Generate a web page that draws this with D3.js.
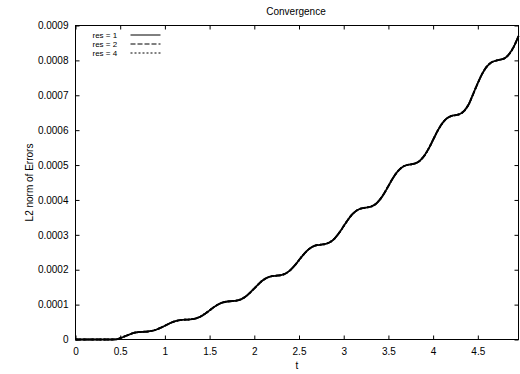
<!DOCTYPE html>
<html>
<head>
<meta charset="utf-8">
<script src="https://cdn.jsdelivr.net/npm/d3@7"></script>
<style>
  html, body { margin: 0; padding: 0; background: #fff; }
  svg { display: block; }
  text { font-family: "Liberation Sans", Arial, Helvetica, sans-serif; fill: #000; }
</style>
</head>
<body>
<svg id="chart" width="520" height="374"></svg>
<script>
// Time samples (t) of the simulation
const tValues = [
  0.00, 0.05, 0.10, 0.15, 0.20, 0.25, 0.30, 0.35, 0.40, 0.45,
  0.50, 0.55, 0.60, 0.65, 0.70, 0.75, 0.80, 0.85, 0.90, 0.95,
  1.00, 1.05, 1.10, 1.15, 1.20, 1.25, 1.30, 1.35, 1.40, 1.45,
  1.50, 1.55, 1.60, 1.65, 1.70, 1.75, 1.80, 1.85, 1.90, 1.95,
  2.00, 2.05, 2.10, 2.15, 2.20, 2.25, 2.30, 2.35, 2.40, 2.45,
  2.50, 2.55, 2.60, 2.65, 2.70, 2.75, 2.80, 2.85, 2.90, 2.95,
  3.00, 3.05, 3.10, 3.15, 3.20, 3.25, 3.30, 3.35, 3.40, 3.45,
  3.50, 3.55, 3.60, 3.65, 3.70, 3.75, 3.80, 3.85, 3.90, 3.95,
  4.00, 4.05, 4.10, 4.15, 4.20, 4.25, 4.30, 4.35, 4.40, 4.45,
  4.50, 4.55, 4.60, 4.65, 4.70, 4.75, 4.80, 4.85, 4.90, 4.955
];

// L2 norm of the error for res = 1
const errRes1 = [
  0, 0, 0, 0, 0, 0, 0, 0, 0, 0.3e-6,
  4.0e-6, 9.0e-6, 14.0e-6, 19.0e-6, 21.0e-6, 22.0e-6, 22.7e-6, 24.5e-6, 28.0e-6, 33.2e-6,
  39.5e-6, 45.8e-6, 51.0e-6, 54.5e-6, 56.3e-6, 57.0e-6, 58.1e-6, 60.8e-6, 66.1e-6, 74.0e-6,
  83.5e-6, 93.0e-6, 100.9e-6, 106.2e-6, 108.9e-6, 110.0e-6, 111.5e-6, 115.2e-6, 122.6e-6, 133.4e-6,
  146.5e-6, 159.6e-6, 170.4e-6, 177.8e-6, 181.5e-6, 183.0e-6, 184.8e-6, 189.3e-6, 198.3e-6, 211.5e-6,
  227.5e-6, 243.5e-6, 256.7e-6, 265.7e-6, 270.2e-6, 272.0e-6, 274.2e-6, 279.5e-6, 290.2e-6, 305.9e-6,
  325.0e-6, 344.1e-6, 359.8e-6, 370.5e-6, 375.8e-6, 378.0e-6, 380.5e-6, 386.8e-6, 399.3e-6, 417.7e-6,
  440.0e-6, 462.3e-6, 480.7e-6, 493.2e-6, 499.5e-6, 502.0e-6, 504.9e-6, 512.0e-6, 526.3e-6, 547.1e-6,
  572.5e-6, 597.9e-6, 618.7e-6, 633.0e-6, 640.1e-6, 643.0e-6, 646.2e-6, 656.0e-6, 675.0e-6, 705.0e-6,
  735.0e-6, 762.0e-6, 782.0e-6, 794.0e-6, 799.0e-6, 802.0e-6, 806.0e-6, 818.0e-6, 838.0e-6, 870.0e-6
];

// The finer resolutions give the same curve to plotting accuracy
const errRes2 = errRes1;
const errRes4 = errRes1;

const seriesNames = ["res = 1", "res = 2", "res = 4"];
const seriesDash = [null, "5,2", "2,2"];

const xTicks = [0, 0.5, 1, 1.5, 2, 2.5, 3, 3.5, 4, 4.5];
const xTickLabels = ["0", "0.5", "1", "1.5", "2", "2.5", "3", "3.5", "4", "4.5"];
const yTicks = [0, 0.0001, 0.0002, 0.0003, 0.0004, 0.0005, 0.0006, 0.0007, 0.0008, 0.0009];
const yTickLabels = ["0", "0.0001", "0.0002", "0.0003", "0.0004", "0.0005", "0.0006", "0.0007", "0.0008", "0.0009"];

const titleText = "Convergence";
const xLabel = "t";
const yLabel = "L2 norm of Errors";

// Layout
const W = 520, H = 374;
const margin = { left: 75.5, right: 1.5, top: 25.5, bottom: 34.5 };
const svg = d3.select("#chart");

const x = d3.scaleLinear().domain([0, 4.955]).range([margin.left, W - margin.right]);
const y = d3.scaleLinear().domain([0, 0.0009]).range([H - margin.bottom, margin.top]);

const tickLen = 4;
const fontSize = 10;
const legendFontSize = 8;

// Inward ticks on all four sides
const axisBottom = d3.axisBottom(x).tickValues(xTicks)
  .tickFormat((d, i) => xTickLabels[i]).tickSizeInner(-tickLen).tickSizeOuter(0).tickPadding(8);
const axisTop = d3.axisTop(x).tickValues(xTicks).tickFormat("")
  .tickSizeInner(-tickLen).tickSizeOuter(0);
const axisLeft = d3.axisLeft(y).tickValues(yTicks)
  .tickFormat((d, i) => yTickLabels[i]).tickSizeInner(-tickLen).tickSizeOuter(0).tickPadding(7);
const axisRight = d3.axisRight(y).tickValues(yTicks).tickFormat("")
  .tickSizeInner(-tickLen).tickSizeOuter(0);

function styleAxis(g) {
  g.select(".domain").remove();
  g.selectAll(".tick line").attr("stroke", "#000").attr("stroke-width", 1);
  g.selectAll(".tick text")
    .attr("font-family", "Liberation Sans, Arial, sans-serif")
    .attr("font-size", fontSize).attr("fill", "#000");
}

svg.append("g").attr("transform", `translate(0,${H - margin.bottom})`).call(axisBottom).call(styleAxis);
svg.append("g").attr("transform", `translate(0,${margin.top})`).call(axisTop).call(styleAxis);
svg.append("g").attr("transform", `translate(${margin.left},0)`).call(axisLeft).call(styleAxis);
svg.append("g").attr("transform", `translate(${W - margin.right},0)`).call(axisRight).call(styleAxis);

// Plot frame
svg.append("rect")
  .attr("x", x.range()[0]).attr("y", y.range()[1])
  .attr("width", x.range()[1] - x.range()[0])
  .attr("height", y.range()[0] - y.range()[1])
  .attr("fill", "none").attr("stroke", "#000").attr("stroke-width", 1);

// Curves
const line = d3.line()
  .x(d => x(d[0]))
  .y(d => y(d[1]))
  .curve(d3.curveMonotoneX);

const allSeries = [errRes4, errRes2, errRes1];
const dashes = [seriesDash[2], seriesDash[1], seriesDash[0]];
allSeries.forEach((vals, i) => {
  svg.append("path")
    .datum(tValues.map((t, j) => [t, vals[j]]))
    .attr("d", line)
    .attr("fill", "none")
    .attr("stroke", "#000")
    .attr("stroke-width", 1.8)
    .attr("stroke-linejoin", "round")
    .attr("stroke-dasharray", dashes[i]);
});

// Legend
const legend = svg.append("g").attr("transform", `translate(${margin.left + 17},${margin.top + 9})`);
seriesNames.forEach((name, i) => {
  const row = legend.append("g").attr("transform", `translate(0,${i * 9})`);
  row.append("text").attr("x", 0).attr("y", 3).attr("font-size", legendFontSize).text(name);
  row.append("line").attr("x1", 38).attr("x2", 68).attr("y1", 0.5).attr("y2", 0.5)
    .attr("stroke", "#000").attr("stroke-width", 1)
    .attr("stroke-dasharray", seriesDash[i]);
});

// Title and axis labels
svg.append("text").attr("x", (x.range()[0] + x.range()[1]) / 2 - 1).attr("y", 15)
  .attr("text-anchor", "middle").attr("font-size", fontSize).text(titleText);
svg.append("text").attr("x", (x.range()[0] + x.range()[1]) / 2).attr("y", 369)
  .attr("text-anchor", "middle").attr("font-size", fontSize).text(xLabel);
svg.append("text")
  .attr("transform", `translate(33,${(y.range()[0] + y.range()[1]) / 2}) rotate(-90)`)
  .attr("text-anchor", "middle").attr("font-size", fontSize).text(yLabel);
</script>
</body>
</html>
